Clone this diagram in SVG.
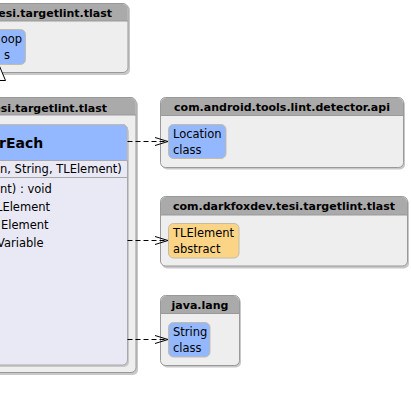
<svg xmlns="http://www.w3.org/2000/svg" width="411" height="412" viewBox="0 0 411 412">
  <style>
    .pkg { fill: #eeeeee; stroke: #999999; stroke-width: 1; }
    .pkghead { fill: #aaaaaa; }
    .shadow { fill: #c8c8c8; }
    .cls { fill: #94b8ff; stroke: #c4bca8; stroke-width: 1; }
    .abs { fill: #fcd486; stroke: #c4bca8; stroke-width: 1; }
    .body { fill: #e9e9f5; stroke: #a8a8a8; stroke-width: 1; }
    .title { font-family: "DejaVu Sans", Verdana, sans-serif; font-size: 11px; font-weight: bold; fill: #000; }
    .txt { font-family: "DejaVu Sans", Verdana, sans-serif; font-size: 11.5px; fill: #000; }
    .name { font-family: "DejaVu Sans", Verdana, sans-serif; font-size: 14px; font-weight: bold; fill: #000; }
    .dep { fill: none; stroke: #000; stroke-width: 1; stroke-dasharray: 5 3; }
    .head { fill: none; stroke: #000; stroke-width: 1; }
  </style>
  <defs>
    <marker id="open" markerWidth="14" markerHeight="10" refX="13" refY="5" orient="auto" markerUnits="userSpaceOnUse">
      <path d="M0,1 L13,5 L0,9" class="head"/>
    </marker>
  </defs>

  <!-- upper package (parent class) -->
  <g id="pkg-top">
    <rect class="shadow" x="-20" y="5" width="150" height="70" rx="5"/>
    <rect class="pkg" x="-22" y="3.5" width="150" height="69" rx="5"/>
    <path class="pkghead" d="M-21.5,21 V9 a5,5 0 0 1 5,-5 H122.5 a5,5 0 0 1 5,5 V21 Z"/>
    <line x1="-22" y1="21" x2="128" y2="21" stroke="#999999"/>
    <text class="title" x="112" y="17" text-anchor="end">tesi.targetlint.tlast</text>
    <rect class="cls" x="-20" y="29.5" width="45.5" height="35" rx="5"/>
    <text class="txt" x="22" y="43" text-anchor="end">oop</text>
    <text class="txt" x="10" y="59" text-anchor="end">s</text>
  </g>

  <!-- main package with the class in detail -->
  <g id="pkg-main">
    <rect class="shadow" x="-20" y="100" width="158" height="275" rx="5"/>
    <rect class="pkg" x="-22" y="97.5" width="158" height="275" rx="5"/>
    <path class="pkghead" d="M-21.5,115 V103 a5,5 0 0 1 5,-5 H130.5 a5,5 0 0 1 5,5 V115 Z"/>
    <line x1="-22" y1="115" x2="136" y2="115" stroke="#999999"/>
    <text class="title" x="107" y="112" text-anchor="end">tesi.targetlint.tlast</text>
  </g>

  <g id="class-main">
    <rect class="shadow" x="-18" y="127" width="147" height="240" rx="5"/>
    <rect class="body" x="-20" y="124.5" width="147.5" height="240.5" rx="5"/>
    <path class="cls" d="M-19.5,160.5 V129.5 a5,5 0 0 1 5,-5 H122.5 a5,5 0 0 1 5,5 V160.5 Z"/>
    <line x1="-20" y1="160.5" x2="127.5" y2="160.5" stroke="#a8a8a8"/>
    <line x1="-20" y1="177.5" x2="127.5" y2="177.5" stroke="#a8a8a8"/>
    <text class="name" x="-1" y="148">rEach</text>
    <text class="txt" x="0" y="173">n, String, TLElement)</text>
    <text class="txt" x="0" y="193">nt) : void</text>
    <text class="txt" x="-4" y="211">LElement</text>
    <text class="txt" x="1" y="229">Element</text>
    <text class="txt" x="-3" y="247">Variable</text>
  </g>

  <!-- com.android.tools.lint.detector.api -->
  <g id="pkg-lint-api">
    <rect class="shadow" x="162" y="99.5" width="243" height="70" rx="5"/>
    <rect class="pkg" x="160.5" y="97.5" width="243" height="70" rx="5"/>
    <path class="pkghead" d="M161,115.5 V103 a5,5 0 0 1 5,-5 H398 a5,5 0 0 1 5,5 V115.5 Z"/>
    <line x1="160.5" y1="115.5" x2="403.5" y2="115.5" stroke="#999999"/>
    <text class="title" x="282" y="111" text-anchor="middle">com.android.tools.lint.detector.api</text>
    <g id="node-location">
      <rect class="cls" x="168.5" y="124.5" width="57.5" height="34" rx="5"/>
      <text class="txt" x="173" y="138">Location</text>
      <text class="txt" x="173" y="154">class</text>
    </g>
  </g>

  <!-- com.darkfoxdev.tesi.targetlint.tlast -->
  <g id="pkg-tlast">
    <rect class="shadow" x="162" y="198.5" width="247" height="70" rx="5"/>
    <rect class="pkg" x="160.5" y="196.5" width="247" height="69.5" rx="5"/>
    <path class="pkghead" d="M161,215 V202 a5,5 0 0 1 5,-5 H402 a5,5 0 0 1 5,5 V215 Z"/>
    <line x1="160.5" y1="215" x2="407.5" y2="215" stroke="#999999"/>
    <text class="title" x="284" y="210" text-anchor="middle">com.darkfoxdev.tesi.targetlint.tlast</text>
    <g id="node-tlelement">
      <rect class="abs" x="168.5" y="223.5" width="70.5" height="34.5" rx="5"/>
      <text class="txt" x="173" y="237">TLElement</text>
      <text class="txt" x="173" y="253">abstract</text>
    </g>
  </g>

  <!-- java.lang -->
  <g id="pkg-java-lang">
    <rect class="shadow" x="162" y="297.5" width="79" height="70" rx="5"/>
    <rect class="pkg" x="160.5" y="295.5" width="79" height="70" rx="5"/>
    <path class="pkghead" d="M161,313.5 V301 a5,5 0 0 1 5,-5 H234 a5,5 0 0 1 5,5 V313.5 Z"/>
    <line x1="160.5" y1="313.5" x2="239.5" y2="313.5" stroke="#999999"/>
    <text class="title" x="200" y="309" text-anchor="middle">java.lang</text>
    <g id="node-string">
      <rect class="cls" x="168.5" y="322.5" width="41.5" height="34.5" rx="5"/>
      <text class="txt" x="173" y="336">String</text>
      <text class="txt" x="173" y="352">class</text>
    </g>
  </g>

  <!-- dependencies and generalization -->
  <g id="connectors">
    <line class="dep" x1="127.5" y1="141.5" x2="168" y2="141.5" marker-end="url(#open)"/>
    <line class="dep" x1="127.5" y1="240.5" x2="168" y2="240.5" marker-end="url(#open)"/>
    <line class="dep" x1="127.5" y1="339.5" x2="168" y2="339.5" marker-end="url(#open)"/>
    <path d="M-1,65 L5.5,80.5 L-8,80.5 Z" fill="#ffffff" stroke="#000" stroke-width="1"/>
  </g>
</svg>
